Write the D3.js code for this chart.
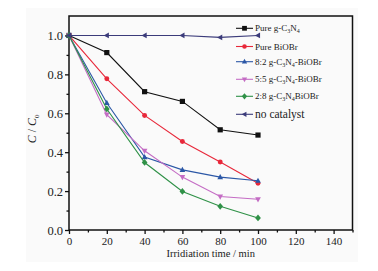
<!DOCTYPE html>
<html><head>
<meta charset="utf-8">
<script src="https://d3js.org/d3.v7.min.js"></script>
<style>
  body { margin: 0; background: #fff; }
  text { font-family: "Liberation Serif", "Times New Roman", serif; fill: #222; }
</style>
</head>
<body>
<svg id="chart" width="378" height="271"></svg>
<script>
  // data
  const times = [0, 20, 40, 60, 80, 100];
  const pureCN = [1.0, 0.912, 0.711, 0.661, 0.515, 0.488];
  const pureBiOBr = [1.0, 0.777, 0.589, 0.455, 0.35, 0.24];
  const ratio82 = [1.0, 0.653, 0.375, 0.309, 0.272, 0.253];
  const ratio55 = [1.0, 0.593, 0.407, 0.272, 0.172, 0.158];
  const ratio28 = [1.0, 0.622, 0.347, 0.198, 0.122, 0.062];
  const noCatalyst = [1.0, 1.0, 1.0, 1.0, 0.99, 1.0];
  const xTicks = [0, 20, 40, 60, 80, 100, 120, 140];
  const yTicks = [0.0, 0.2, 0.4, 0.6, 0.8, 1.0];

  const series = [
    {name: "pure", values: pureCN, color: "#111111", sym: "square"},
    {name: "bi", values: pureBiOBr, color: "#e8283a", sym: "circle"},
    {name: "82", values: ratio82, color: "#2b57a6", sym: "up"},
    {name: "55", values: ratio55, color: "#c46cc4", sym: "down"},
    {name: "28", values: ratio28, color: "#2f9147", sym: "diamond"},
    {name: "none", values: noCatalyst, color: "#3b3b7a", sym: "left"}
  ];

  const svg = d3.select("#chart");
  svg.append("rect").attr("x", 26).attr("y", 8).attr("width", 332).attr("height", 254)
     .attr("fill", "#fafafa");

  const pLeft = 69, pRight = 352.5, pTop = 16, pBottom = 230;
  const x = d3.scaleLinear().domain([0, 150]).range([pLeft, pRight]);
  const y = d3.scaleLinear().domain([0, 1.1]).range([pBottom, pTop]);

  // axes
  const xAxis = svg.append("g").attr("transform", `translate(0,${pBottom})`)
    .call(d3.axisBottom(x).tickValues(d3.range(0, 151, 10)).tickSize(4)
      .tickFormat(d => xTicks.includes(d) ? d : ""));
  xAxis.selectAll(".tick line").attr("y2", d => d % 20 === 0 ? 4 : 2.5);
  const yAxis = svg.append("g").attr("transform", `translate(${pLeft},0)`)
    .call(d3.axisLeft(y).tickValues(d3.range(0, 11).map(i => i / 10)).tickSize(4).tickPadding(2)
      .tickFormat(d => yTicks.some(t => Math.abs(t - d) < 1e-6) ? d3.format(".1f")(d) : ""));
  yAxis.selectAll(".tick line").attr("x2", (d, i) => i % 2 === 0 ? -4 : -2.5);
  [xAxis, yAxis].forEach(a => {
    a.select(".domain").remove();
    a.selectAll(".tick line").attr("stroke", "#111").attr("stroke-width", 1.3);
    a.selectAll("text").attr("font-size", 11).attr("fill", "#333")
      .style("font-family", "'Liberation Serif', serif");
  });
  xAxis.selectAll("text").attr("dy", "0.75em");
  yAxis.selectAll("text").attr("font-size", 12.5);

  svg.append("rect").attr("x", pLeft).attr("y", pTop)
     .attr("width", pRight - pLeft).attr("height", pBottom - pTop)
     .attr("fill", "none").attr("stroke", "#111").attr("stroke-width", 1.5);

  svg.append("text").attr("x", x(75)).attr("y", 257).attr("text-anchor", "middle")
     .attr("font-size", 10.5).text("Irridiation time / min");
  const yl = svg.append("text").attr("transform", `translate(36,${y(0.52)}) rotate(-90)`)
     .attr("text-anchor", "middle").attr("font-size", 12);
  yl.append("tspan").attr("font-style", "italic").text("C");
  yl.append("tspan").text(" / ");
  yl.append("tspan").attr("font-style", "italic").text("C");
  yl.append("tspan").attr("font-size", 7).attr("dy", 3).text("0");

  function marker(g, sym, color, s) {
    if (sym === "circle") return g.append("circle").attr("r", s * 0.95).attr("fill", color);
    let pts;
    if (sym === "square") pts = [[-s, -s], [s, -s], [s, s], [-s, s]];
    if (sym === "up") pts = [[0, -s * 1.2], [s * 1.1, s * 0.8], [-s * 1.1, s * 0.8]];
    if (sym === "down") pts = [[0, s * 1.2], [s * 1.1, -s * 0.8], [-s * 1.1, -s * 0.8]];
    if (sym === "diamond") pts = [[0, -s * 1.3], [s * 1.1, 0], [0, s * 1.3], [-s * 1.1, 0]];
    if (sym === "left") pts = [[-s * 1.2, 0], [s * 0.8, -s * 1.1], [s * 0.8, s * 1.1]];
    return g.append("polygon").attr("points", pts.map(p => p.join(",")).join(" ")).attr("fill", color);
  }

  const line = d3.line().x((d, i) => x(times[i])).y(d => y(d));
  series.forEach(s => {
    svg.append("path").datum(s.values).attr("d", line)
       .attr("fill", "none").attr("stroke", s.color).attr("stroke-width", 1.1);
    s.values.forEach((v, i) => {
      const g = svg.append("g").attr("transform", `translate(${x(times[i])},${y(v)})`);
      marker(g, s.sym, s.color, 2.6);
    });
  });

  // legend
  const legendY = [28.3, 46.5, 61.7, 79.3, 96.3, 114.3];
  const legend = svg.append("g");
  series.forEach((s, i) => {
    const g = legend.append("g").attr("transform", `translate(236,${legendY[i]})`);
    g.append("line").attr("x1", 0).attr("x2", 17).attr("stroke", s.color).attr("stroke-width", 1.1);
    marker(g.append("g").attr("transform", "translate(8.5,0)"), s.sym, s.color, 2.4);
    const t = g.append("text").attr("x", 19).attr("dy", "0.35em").attr("font-size", 9);
    const sub = txt => t.append("tspan").attr("font-size", 6).attr("dy", 2).text(txt);
    const norm = txt => t.append("tspan").attr("font-size", 9).attr("dy", -2).text(txt);
    if (i === 0) { t.append("tspan").text("Pure g-C"); sub("3"); norm("N"); sub("4"); }
    if (i === 1) t.text("Pure BiOBr");
    if (i === 2) { t.append("tspan").text("8:2 g-C"); sub("3"); norm("N"); sub("4"); norm("-BiOBr"); }
    if (i === 3) { t.append("tspan").text("5:5 g-C"); sub("3"); norm("N"); sub("4"); norm("-BiOBr"); }
    if (i === 4) { t.append("tspan").text("2:8 g-C"); sub("3"); norm("N"); sub("4"); norm("BiOBr"); }
    if (i === 5) t.attr("font-size", 11.5).text("no catalyst");
  });
</script>
</body>
</html>
